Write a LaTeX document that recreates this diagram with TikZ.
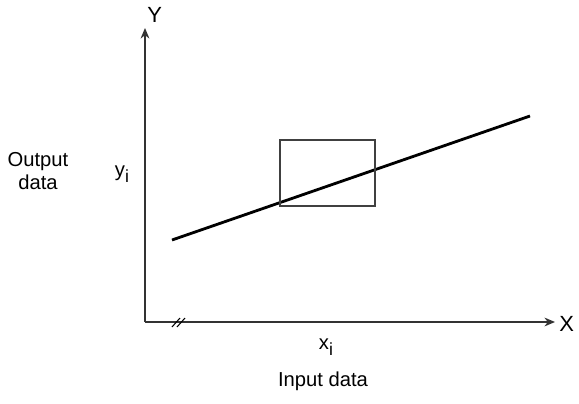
\documentclass[tikz,border=0pt]{standalone}
\usepackage{fontspec}
\setmainfont{Liberation Sans}
\usetikzlibrary{arrows.meta, positioning}

\newcommand{\subi}{\raisebox{-0.55ex}{\fontsize{10}{11}\selectfont$\mathrm{i}$}}

\begin{document}
\begin{tikzpicture}[x=0.02cm, y=-0.02cm, >={Stealth[length=6pt, width=5pt]}]
    \tikzstyle{axis} = [draw, ->, line width=0.9pt, black!80]
    \tikzstyle{label} = [inner sep=0pt, font=\fontsize{11.5}{13.5}\selectfont]
    \tikzstyle{fit line} = [draw, line width=1.6pt]
    \tikzstyle{window} = [draw, line width=0.8pt, black!75]

    \useasboundingbox (0,0) rectangle (579,403);

    % axes
    \coordinate (origin) at (145,322);
    \coordinate (ytop) at (145,28);
    \coordinate (xend) at (555,322);
    \path [axis] (origin) -- (ytop);
    \path [axis] (origin) -- (xend);
    \node [label, anchor=west, font=\fontsize{12.5}{14}\selectfont] (ylab) at (147,15) {Y};
    \node [label, anchor=west, font=\fontsize{12.5}{14}\selectfont] (xlab) at (559,324) {X};

    % break mark on x axis
    \draw [line width=0.6pt] (172,327) -- (180,318) (177,327) -- (185,318);

    % data line and window
    \coordinate (p1) at (172,240);
    \coordinate (p2) at (530,116);
    \path [fit line] (p1) -- (p2);
    \path [window] (280,140) rectangle (375,206);

    % labels
    \node [label] (yi) at (122,174) {y\subi};
    \node [label, align=center] (out) at (38,171) {Output\\data};
    \node [label] (xi) at (326,347) {x\subi};
    \node [label] (inp) at (323,381) {Input data};
\end{tikzpicture}
\end{document}
